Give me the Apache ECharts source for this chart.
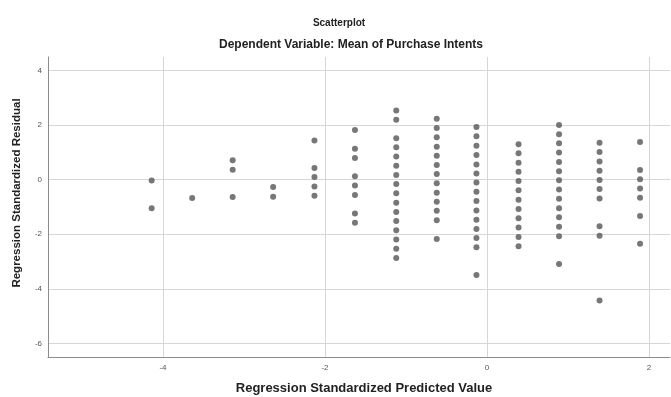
<!DOCTYPE html>
<html>
<head>
<meta charset="utf-8">
<script src="https://cdn.jsdelivr.net/npm/echarts@6/dist/echarts.min.js"></script>
<style>
  html, body { margin: 0; padding: 0; background: #ffffff; }
  #chart { width: 671px; height: 397px; }
</style>
</head>
<body>
<div id="chart"></div>
<script>
// Standardized predicted values (one column of cases per level)
const predictedLevels = [-4.14, -3.64, -3.14, -2.64, -2.13, -1.63, -1.12, -0.62, -0.13, 0.39, 0.89, 1.39, 1.89];

// Standardized residuals observed at each predicted level
const residualsAtLevel = [
  [-0.03, -1.05],
  [-0.67],
  [0.71, 0.37, -0.63],
  [-0.27, -0.62],
  [1.44, 0.43, 0.10, -0.25, -0.59],
  [1.82, 1.14, 0.80, 0.13, -0.21, -0.56, -1.24, -1.58],
  [2.54, 2.20, 1.52, 1.19, 0.85, 0.51, 0.17, -0.16, -0.50, -0.84, -1.18, -1.51, -1.85, -2.19, -2.53, -2.87],
  [2.24, 1.90, 1.56, 1.21, 0.88, 0.54, 0.21, -0.13, -0.48, -0.81, -1.14, -1.49, -2.17],
  [1.93, 1.59, 1.25, 0.91, 0.56, 0.23, -0.10, -0.44, -0.78, -1.13, -1.47, -1.81, -2.14, -2.48, -3.49],
  [1.30, 0.97, 0.62, 0.29, -0.05, -0.39, -0.73, -1.07, -1.41, -1.75, -2.10, -2.44],
  [2.01, 1.67, 1.34, 1.00, 0.65, 0.31, -0.02, -0.36, -0.70, -1.05, -1.38, -1.72, -2.07, -3.09],
  [1.36, 1.02, 0.67, 0.33, -0.01, -0.34, -0.69, -1.71, -2.05, -4.43],
  [1.38, 0.36, 0.02, -0.32, -0.66, -1.33, -2.35]
];

// Tick positions shown on each axis
const xTicks = [-4, -2, 0, 2];
const yTicks = [-6, -4, -2, 0, 2, 4];

const points = [];
predictedLevels.forEach(function (x, i) {
  residualsAtLevel[i].forEach(function (y) { points.push([x, y]); });
});

const FONT = '"Liberation Sans", Arial, sans-serif';
const chart = echarts.init(document.getElementById('chart'), null, { renderer: 'canvas' });

chart.setOption({
  animation: false,
  backgroundColor: '#ffffff',
  grid: { left: 48, right: 1, top: 57, bottom: 40, containLabel: false },
  xAxis: {
    type: 'value',
    min: -5.42,
    max: 2.26,
    axisLine: { show: true, onZero: false, lineStyle: { color: '#8c8c8c', width: 1 } },
    axisTick: { show: false, customValues: xTicks },
    axisLabel: { customValues: xTicks, color: '#555', fontSize: 8, fontFamily: FONT, margin: 7 },
    splitLine: { show: true, lineStyle: { color: '#d6d6d6', width: 1 } }
  },
  yAxis: {
    type: 'value',
    min: -6.5,
    max: 4.5,
    axisLine: { show: true, onZero: false, lineStyle: { color: '#8c8c8c', width: 1 } },
    axisTick: { show: false, customValues: yTicks },
    axisLabel: { customValues: yTicks, color: '#555', fontSize: 8, fontFamily: FONT, margin: 6 },
    splitLine: { show: true, lineStyle: { color: '#d6d6d6', width: 1 } }
  },
  graphic: [
    { type: 'text', x: 339, y: 23, style: { text: 'Scatterplot', font: 'bold 10px ' + FONT, fill: '#222', align: 'center', verticalAlign: 'middle' } },
    { type: 'text', x: 351, y: 45, style: { text: 'Dependent Variable: Mean of Purchase Intents', font: 'bold 12px ' + FONT, fill: '#222', align: 'center', verticalAlign: 'middle' } },
    { type: 'text', x: 364, y: 388, style: { text: 'Regression Standardized Predicted Value', font: 'bold 13px ' + FONT, fill: '#222', align: 'center', verticalAlign: 'middle' } },
    { type: 'text', x: 17, y: 193, rotation: Math.PI / 2, style: { text: 'Regression Standardized Residual', font: 'bold 11.5px ' + FONT, fill: '#222', align: 'center', verticalAlign: 'middle' } }
  ],
  series: [{
    type: 'scatter',
    data: points,
    symbol: 'circle',
    symbolSize: 6,
    itemStyle: { color: '#555555' },
    silent: true
  }]
});
</script>
</body>
</html>
